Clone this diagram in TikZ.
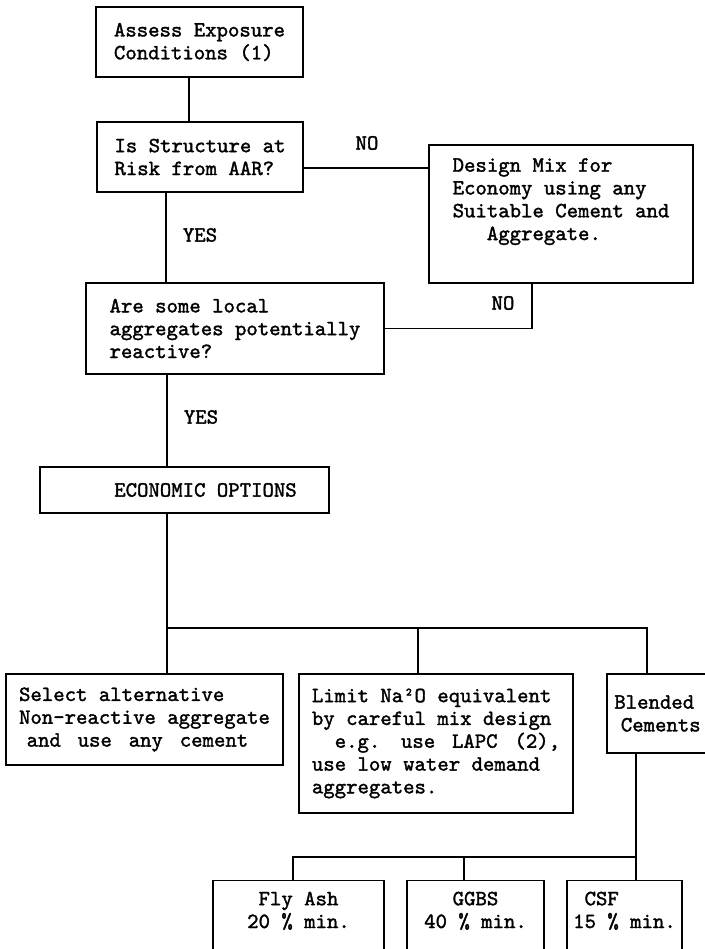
\documentclass[tikz,border=0pt]{standalone}
\usepackage{fontspec}
\newfontfamily\boxfont[FakeBold=1.6]{Latin Modern Mono}
\newcommand\gap{\hspace{0.25em}}
\begin{document}
\begin{tikzpicture}[x=0.5pt,y=-0.5pt,
    box/.style={draw, line width=0.7pt, rectangle, inner sep=0pt, align=left,
        font=\boxfont\fontsize{10.86pt}{11.4pt}\selectfont},
    openbox/.style={box, anchor=north, inner ysep=5.5pt, text depth=45pt},
    lbl/.style={font=\boxfont\fontsize{10.86pt}{11.4pt}\selectfont},
    link/.style={line width=0.7pt}]
        \useasboundingbox (0,0) rectangle (705,949);
        \clip (0,0) rectangle (705,949);

        \node[box, minimum width=103.5pt, minimum height=35pt] (assess) at (199.5,42) {Assess Exposure\\Conditions (1)};
        \node[box, minimum width=103pt, minimum height=35pt] (risk) at (200,157) {Is Structure at\\Risk from AAR?};
        \node[box, minimum width=132pt, minimum height=69pt] (design) at (561,214) {Design Mix for\\Economy using any\\Suitable Cement and\\\phantom{xxx}Aggregate.\\\strut};
        \node[box, minimum width=149pt, minimum height=45.5pt] (reactive) at (235,328.5) {Are some local\\aggregates potentially\\reactive?};
        \node[box, minimum width=144.5pt, minimum height=23pt] (options) at (184.5,490) {\hspace*{21pt}ECONOMIC OPTIONS};
        \node[box, minimum width=138.5pt, minimum height=45.5pt] (select) at (144.5,719.5) {Select alternative\\Non-reactive aggregate\\\hspace*{0.35em}and\gap{} use\gap{} any\gap{} cement};
        \node[box, minimum width=137pt, minimum height=69.5pt] (limit) at (436,743.5) {Limit Na²O equivalent\\by careful mix design\\\phantom{xx}e.g.\gap{} use\gap{} LAPC\gap{} (2),\\use low water demand\\aggregates.};
        \node[box, minimum width=50.5pt, minimum height=39.5pt] (blended) at (657.5,713.5) {Blended\\\hspace*{0.3em}Cements};
        \node[openbox, align=center, minimum width=85.5pt] (flyash) at (298.5,880) {Fly Ash\\20 \% min.};
        \node[openbox, align=center, minimum width=68.5pt] (ggbs) at (475.5,880) {GGBS\\40 \% min.};
        \node[openbox, minimum width=57.5pt] (csf) at (624.5,880) {\phantom{x}CSF\\15 \% min.};

        \node[lbl] (no1) at (367,143) {NO};
        \node[lbl] (yes1) at (200,235) {YES};
        \node[lbl] (no2) at (503,303) {NO};
        \node[lbl] (yes2) at (201,417) {YES};

        \coordinate (fork) at (167,628);
        \coordinate (fork2) at (636,857);

        \draw[link] ([xshift=-5.25pt]assess.south) -- ([xshift=-5.5pt]risk.north);
        \draw[link] ([yshift=-5.5pt]risk.east) -- ([yshift=-5.5pt]risk.east -| design.west);
        \draw[link] ([xshift=-17pt]risk.south) -- ([xshift=-34.5pt]reactive.north);
        \draw[link] ([xshift=-14.5pt]design.south) |- (reactive.east);
        \draw[link] ([xshift=-34pt]reactive.south) -- ([xshift=-8.75pt]options.north);
        \draw[link] ([xshift=-8.75pt]options.south) -- (fork) -- ([xshift=11.25pt]select.north);
        \draw[link] (fork) -| ([xshift=-9pt]limit.north);
        \draw[link] (fork) -| ([xshift=-5.25pt]blended.north);
        \draw[link] ([xshift=-10.75pt]blended.south) -- (fork2) -- (fork2 |- csf.north);
        \draw[link] (fork2) -| ([xshift=-2.75pt]flyash.north);
        \draw[link] ([xshift=-5.75pt]ggbs.north) -- ([xshift=-5.75pt]ggbs.north |- fork2);
\end{tikzpicture}
\end{document}
